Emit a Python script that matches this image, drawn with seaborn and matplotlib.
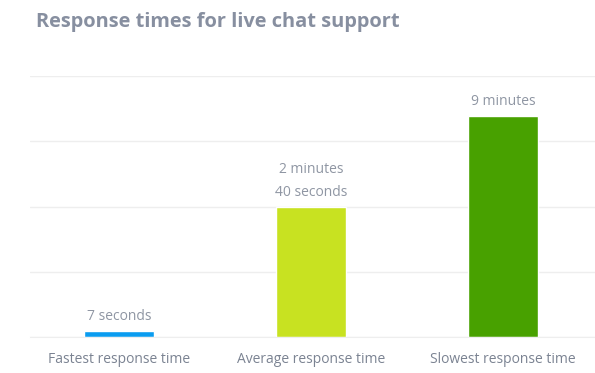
import matplotlib
matplotlib.use("Agg")
import matplotlib.pyplot as plt
import seaborn as sns
import pandas as pd

# values (bar heights in gridline units)
categories = ["Fastest response time", "Average response time", "Slowest response time"]
heights = [0.09, 2.0, 3.39]
value_labels = ["7 seconds", "2 minutes\n40 seconds", "9 minutes"]
colors = ["#0a9cf0", "#c8e221", "#48a100"]

df = pd.DataFrame({"category": categories, "height": heights})

sns.set_style("white")
plt.rcParams["font.family"] = ["Open Sans", "DejaVu Sans"]

fig = plt.figure(figsize=(5.95, 3.73), dpi=100)
ax = fig.add_axes([0.0504, 0.0965, 0.9496, 0.6995])

sns.barplot(data=df, x="category", y="height", hue="category",
            palette=colors, width=0.365, legend=False, ax=ax, saturation=1)

ax.set_xlim(-0.464, 2.479)
ax.set_ylim(0, 4)
ax.set_yticks([0, 1, 2, 3, 4])
ax.yaxis.grid(True, color="#eeeeee", linewidth=1)
ax.set_axisbelow(True)
ax.tick_params(axis="y", left=False, labelleft=False)
ax.tick_params(axis="x", bottom=False, colors="#7b8392", labelsize=10, pad=7)
for s in ["top", "right", "left"]:
    ax.spines[s].set_visible(False)
ax.spines["bottom"].set_color("#eeeeee")
ax.set_xlabel("")
ax.set_ylabel("")

for bar, lab in zip(ax.patches, value_labels):
    ax.annotate(lab, (bar.get_x() + bar.get_width() / 2, bar.get_height()),
                xytext=(0, 5), textcoords="offset points", ha="center", va="bottom",
                fontsize=10, color="#8f96a3", linespacing=1.65)

fig.text(36 / 595, 1 - 22 / 373, "Response times for live chat support",
         fontsize=14.4, fontweight="bold", color="#878fa0", va="center", ha="left")

fig.savefig("out.png", dpi=100)
